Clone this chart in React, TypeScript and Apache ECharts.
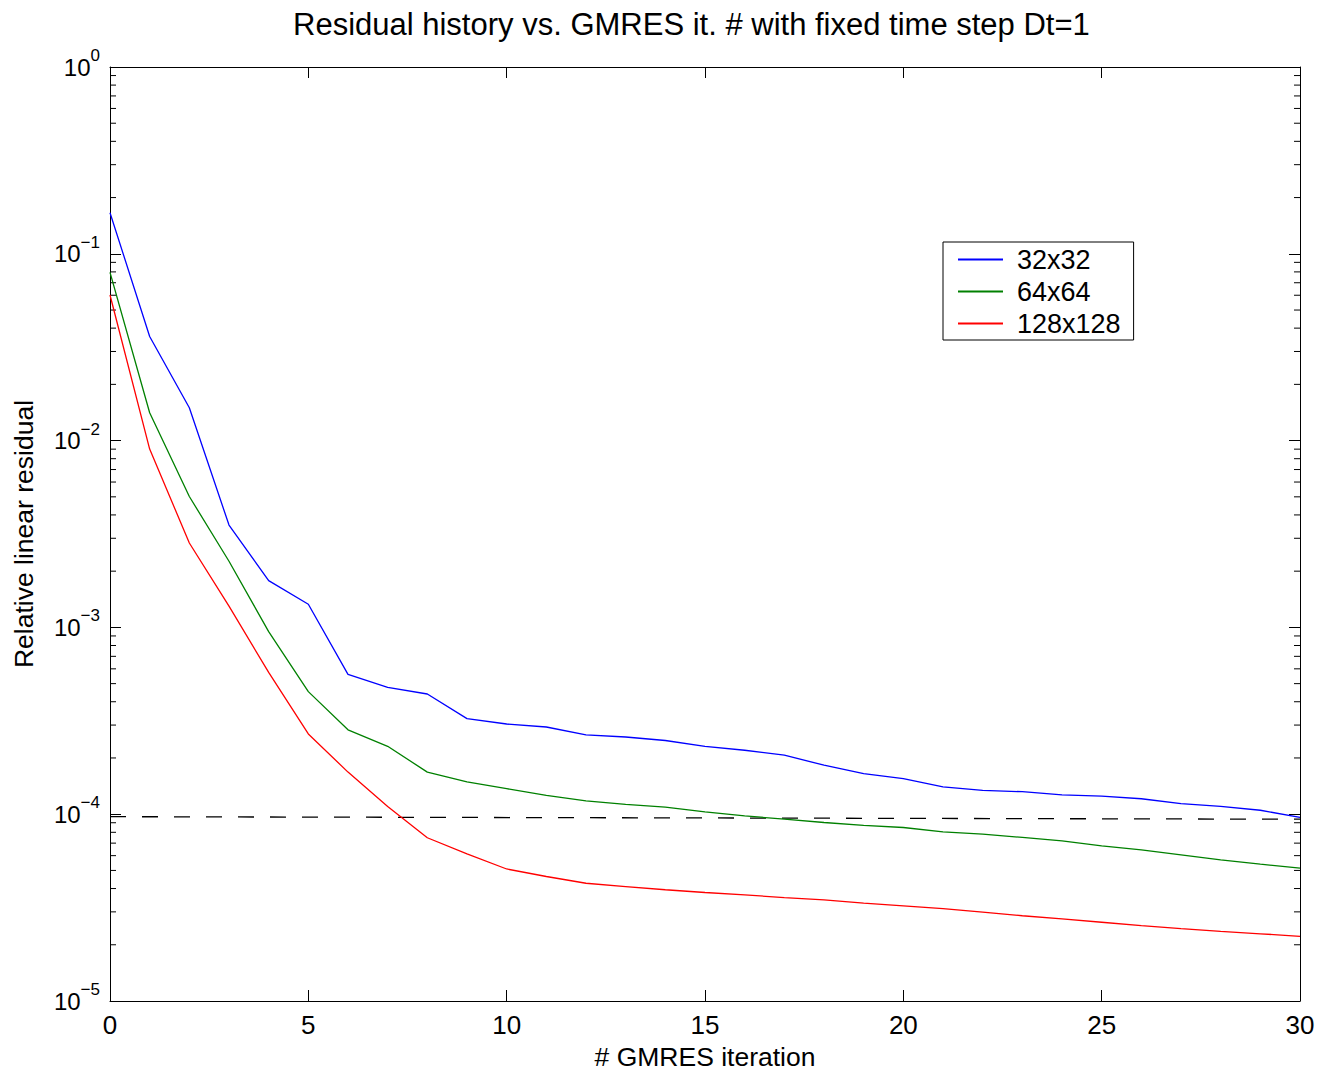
import React, { useEffect, useRef } from "react";
import * as echarts from "echarts";

const iterations = [0, 1, 2, 3, 4, 5, 6, 7, 8, 9, 10, 11, 12, 13, 14, 15, 16, 17, 18, 19, 20, 21, 22, 23, 24, 25, 26, 27, 28, 29, 30];

const res32 = [
  0.166, 0.0361, 0.0150, 0.00353, 0.00178, 0.00133, 0.00056, 0.000478, 0.00044, 0.000325,
  0.000304, 0.000293, 0.000266, 0.000259, 0.000248, 0.000231, 0.00022, 0.000207, 0.000183, 0.000165,
  0.000155, 0.00014, 0.000134, 0.000132, 0.000127, 0.000125, 0.000121, 0.000114, 0.00011, 0.000105,
  0.0000961,
];

const res64 = [
  0.0795, 0.0141, 0.00502, 0.00226, 0.00095, 0.000453, 0.000283, 0.000231, 0.000168, 0.000149,
  0.000137, 0.000126, 0.000118, 0.000113, 0.000109, 0.000103, 0.000098, 0.0000941, 0.0000903, 0.0000871,
  0.0000849, 0.0000805, 0.0000783, 0.0000751, 0.0000719, 0.0000676, 0.0000644, 0.0000606, 0.0000569, 0.000054,
  0.0000514,
];

const res128 = [
  0.0602, 0.00901, 0.00283, 0.0013, 0.000574, 0.000269, 0.000168, 0.00011, 0.0000748, 0.0000613,
  0.0000509, 0.0000464, 0.0000427, 0.000041, 0.0000394, 0.0000381, 0.000037, 0.0000358, 0.0000348, 0.0000334,
  0.0000323, 0.0000312, 0.0000299, 0.0000286, 0.0000275, 0.0000264, 0.0000253, 0.0000244, 0.0000236, 0.0000229,
  0.0000222,
];

const toleranceX = [0, 30];
const toleranceY = [0.000097, 0.000094];

const seriesNames = ["32x32", "64x64", "128x128"];
const seriesColors = ["#0000ff", "#008000", "#ff0000"];

const decades = [-5, -4, -3, -2, -1];
const minorMultipliers = [2, 3, 4, 5, 6, 7, 8, 9];

const FONT = "'Liberation Sans', Arial, Helvetica, sans-serif";

export default function App() {
  const ref = useRef<HTMLDivElement>(null);

  useEffect(() => {
    if (!ref.current) return;
    const chart = echarts.init(ref.current, undefined, { renderer: "svg" });

    const minorValues: number[][] = [];
    decades.forEach((d) => {
      minorMultipliers.forEach((m) => {
        minorValues.push([0, m * Math.pow(10, d)]);
      });
    });

    const pair = (arr: number[]) => iterations.map((x, i) => [x, arr[i]]);

    const yLabel = {
      show: true,
      margin: 10,
      formatter: (v: number) => {
        const e = Math.round(Math.log10(v));
        const s = e < 0 ? "\u2212" + String(-e) : String(e);
        return `{b|10}{s|${s}}`;
      },
      rich: {
        b: { fontSize: 24, fontFamily: FONT, color: "#000", lineHeight: 40 },
        s: { fontSize: 17, fontFamily: FONT, color: "#000", verticalAlign: "top", lineHeight: 20 },
      },
    };

    const option: any = {
      animation: false,
      backgroundColor: "#fff",
      textStyle: { fontFamily: FONT },
      title: {
        text: "Residual history vs. GMRES it. # with fixed time step Dt=1",
        left: 288,
        top: 4,
        textStyle: { fontSize: 31, fontWeight: "normal", color: "#000", fontFamily: FONT },
      },
      grid: { left: 110, width: 1190, top: 67, height: 938, show: false },
      legend: {
        data: seriesNames,
        orient: "vertical",
        left: 943,
        top: 242,
        padding: [4, 13, 3, 15],
        itemGap: 5,
        itemWidth: 45,
        itemHeight: 2,
        icon: "rect",
        borderColor: "#000",
        borderWidth: 1,
        backgroundColor: "#fff",
        textStyle: { fontSize: 27, color: "#000", fontFamily: FONT, padding: [0, 0, 0, 9] },
      },
      xAxis: [
        {
          type: "value",
          min: 0,
          max: 30,
          interval: 5,
          position: "bottom",
          name: "# GMRES iteration",
          nameLocation: "middle",
          nameGap: 42,
          nameTextStyle: { fontSize: 26.5, color: "#000", fontFamily: FONT },
          axisLine: { show: true, onZero: false, lineStyle: { color: "#000", width: 1 } },
          axisTick: { show: true, inside: true, length: 11, lineStyle: { color: "#000" } },
          axisLabel: { show: true, fontSize: 26, color: "#000", margin: 11, fontFamily: FONT },
          splitLine: { show: false },
        },
        {
          type: "value",
          min: 0,
          max: 30,
          interval: 5,
          position: "top",
          axisLine: { show: true, onZero: false, lineStyle: { color: "#000", width: 1 } },
          axisTick: { show: true, inside: true, length: 11, lineStyle: { color: "#000" } },
          axisLabel: { show: false },
          splitLine: { show: false },
        },
      ],
      yAxis: [
        {
          type: "log",
          logBase: 10,
          min: 1e-5,
          max: 1,
          position: "left",
          name: "Relative linear residual",
          nameLocation: "middle",
          nameGap: 73,
          nameTextStyle: { fontSize: 26.5, color: "#000", fontFamily: FONT },
          axisLine: { show: true, onZero: false, lineStyle: { color: "#000", width: 1 } },
          axisTick: { show: true, inside: true, length: 11, lineStyle: { color: "#000" } },
          axisLabel: yLabel,
          splitLine: { show: false },
        },
        {
          type: "log",
          logBase: 10,
          min: 1e-5,
          max: 1,
          position: "right",
          axisLine: { show: true, onZero: false, lineStyle: { color: "#000", width: 1 } },
          axisTick: { show: true, inside: true, length: 11, lineStyle: { color: "#000" } },
          axisLabel: { show: false },
          splitLine: { show: false },
        },
      ],
      series: [
        ...seriesNames.map((name, i) => ({
          name,
          type: "line",
          xAxisIndex: 0,
          yAxisIndex: 0,
          data: pair([res32, res64, res128][i]),
          showSymbol: false,
          symbol: "none",
          color: seriesColors[i],
          lineStyle: { color: seriesColors[i], width: 1.3 },
          z: 3,
        })),
        {
          name: "tolerance",
          type: "line",
          xAxisIndex: 0,
          yAxisIndex: 0,
          data: toleranceX.map((x, i) => [x, toleranceY[i]]),
          showSymbol: false,
          symbol: "none",
          lineStyle: { color: "#000", width: 1.3, type: [16, 16] },
          z: 2,
        },
        {
          name: "minorTicks",
          type: "custom",
          xAxisIndex: 0,
          yAxisIndex: 0,
          data: minorValues,
          silent: true,
          clip: false,
          renderItem: (params: any, api: any) => {
            const cs = params.coordSys;
            const y = api.coord([0, api.value(1)])[1];
            const x0 = cs.x;
            const x1 = cs.x + cs.width;
            const style = { stroke: "#000", lineWidth: 1 };
            return {
              type: "group",
              children: [
                { type: "line", shape: { x1: x0, y1: y, x2: x0 + 6, y2: y }, style },
                { type: "line", shape: { x1: x1 - 6, y1: y, x2: x1, y2: y }, style },
              ],
            };
          },
        },
      ],
    };

    chart.setOption(option);
    return () => chart.dispose();
  }, []);

  return (
    <div
      ref={ref}
      style={{ position: "fixed", left: 0, top: 0, width: 1321, height: 1075, background: "#fff" }}
    />
  );
}
